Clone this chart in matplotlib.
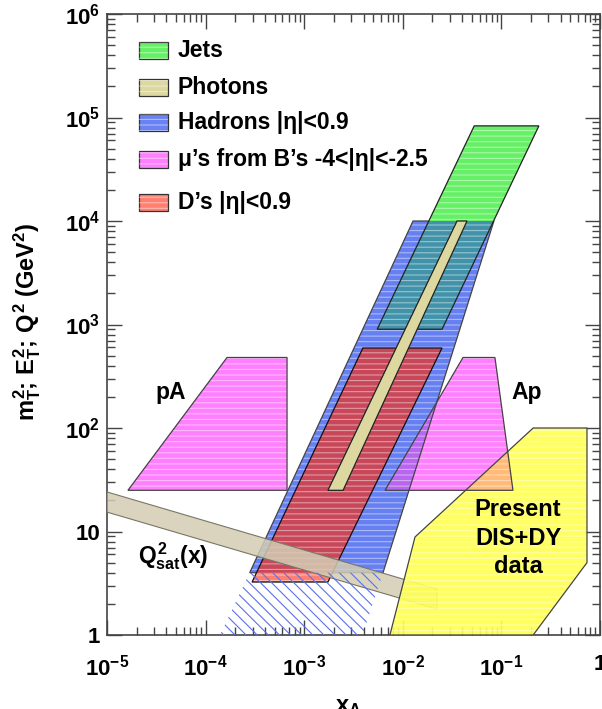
import matplotlib
matplotlib.use("Agg")
import matplotlib.pyplot as plt
from matplotlib.patches import Polygon, Rectangle
from matplotlib.ticker import FixedLocator, FixedFormatter, LogLocator, NullFormatter

plt.rcParams["font.family"] = ["Liberation Sans", "DejaVu Sans"]
plt.rcParams["font.weight"] = "bold"
plt.rcParams["axes.labelweight"] = "bold"
plt.rcParams["mathtext.fontset"] = "custom"
plt.rcParams["mathtext.rm"] = "Liberation Sans:bold"
plt.rcParams["mathtext.it"] = "Liberation Sans:bold"
plt.rcParams["mathtext.bf"] = "Liberation Sans:bold"
plt.rcParams["hatch.linewidth"] = 0.8

# corners of each region in (x_A, Q^2)
jets_x = [5.5e-3, 0.025, 0.24, 0.053]
jets_y = [900, 900, 8.3e4, 8.3e4]

photons_x = [1.74e-3, 2.48e-3, 0.0448, 0.0355]
photons_y = [25, 25, 1e4, 1e4]

hadrons_x = [2.8e-4, 6.3e-3, 0.084, 0.0127]
hadrons_y = [4, 4, 1e4, 1e4]
hadrons_low_x = [1.4e-4, 3.9e-3, 6.3e-3, 2.8e-4]
hadrons_low_y = [1, 1, 4, 4]

pA_x = [1.63e-5, 6.7e-4, 6.7e-4, 1.65e-4]
pA_y = [25, 25, 480, 480]
Ap_x = [6.6e-3, 0.131, 0.086, 0.0408]
Ap_y = [25, 25, 480, 480]

dmes_x = [2.96e-4, 1.74e-3, 0.025, 3.94e-3]
dmes_y = [3.25, 3.25, 593, 593]

dis_x = [7.4e-3, 0.21, 0.738, 0.738, 0.21, 0.0133]
dis_y = [1, 1, 5, 100, 100, 8.85]

qsat_x = [1e-5, 0.0222, 0.0222, 1e-5]
qsat_y = [15.4, 1.78, 2.78, 24.1]

legend_labels = ["Jets", "Photons", "Hadrons |η|<0.9",
                 "μ’s from B’s -4<|η|<-2.5", "D’s |η|<0.9"]
legend_colors = ["#66f066", "#dcd8a0", "#6b82f2", "#ff80ff", "#ff7f70"]

xticks = [1e-5, 1e-4, 1e-3, 1e-2, 1e-1, 1]
xlabels = ["$10^{-5}$", "$10^{-4}$", "$10^{-3}$", "$10^{-2}$", "$10^{-1}$", "1"]
yticks = [1, 10, 1e2, 1e3, 1e4, 1e5, 1e6]
ylabels = ["1", "10", "$10^{2}$", "$10^{3}$", "$10^{4}$", "$10^{5}$", "$10^{6}$"]

fig = plt.figure(figsize=(6.02, 7.09), dpi=100)
ax = fig.add_axes([107 / 602, 1 - 635 / 709, 493 / 602, 621 / 709])
ax.set_xscale("log")
ax.set_yscale("log")
ax.set_xlim(1e-5, 1)
ax.set_ylim(1, 1e6)


def region(xs, ys, color, z, clip=None, lines=True, alpha=1.0):
    pts = list(zip(xs, ys))
    p = Polygon(pts, closed=True, facecolor=color, edgecolor="none",
                linewidth=0, alpha=alpha, zorder=z)
    ax.add_patch(p)
    if clip is not None:
        p.set_clip_path(clip)
    if lines:
        h = Polygon(pts, closed=True, facecolor="none", edgecolor=(1, 1, 1, 0.45),
                    linewidth=0, hatch="---", zorder=z + 0.01)
        ax.add_patch(h)
        if clip is not None:
            h.set_clip_path(clip)
    return p


def outline(xs, ys, z, color="#333333", lw=0.9, ls="-"):
    ax.add_patch(Polygon(list(zip(xs, ys)), closed=True, fill=False,
                         edgecolor=color, linewidth=lw, linestyle=ls, zorder=z))


# muons from B's (pA and Ap)
pa = region(pA_x, pA_y, "#ff80ff", 2)
ap = region(Ap_x, Ap_y, "#ff80ff", 2)

# hadrons
had = region(hadrons_x, hadrons_y, "#6680f2", 3)
outline(hadrons_x, hadrons_y, 3.5, "#444444")
region(Ap_x, Ap_y, "#b866f0", 3.2, clip=had)

# jets
region(jets_x, jets_y, "#66f066", 4)
region(jets_x, jets_y, "#4293aa", 4.1, clip=had)
outline(jets_x, jets_y, 4.5, "#222222")

# D mesons
region(dmes_x, dmes_y, "#ff7f70", 5)
region(dmes_x, dmes_y, "#c8485a", 5.1, clip=had)
outline(dmes_x, dmes_y, 5.5, "#111111")

# saturation scale band
region(qsat_x, qsat_y, "#d4cdb4", 6, lines=False, alpha=0.85)
outline(qsat_x, qsat_y, 6.1, "#777766", lw=0.8)

# hadrons continuation, hatched
ax.add_patch(Polygon(list(zip(hadrons_low_x, hadrons_low_y)), closed=True,
                     facecolor="none", edgecolor="#5b70ee", linewidth=0,
                     hatch="\\\\\\", zorder=7))

# present DIS + DY data
region(dis_x, dis_y, "#ffff55", 8, alpha=0.92)
region(dis_x, dis_y, "#ffbb77", 8.1, clip=ap)
outline(dis_x, dis_y, 8.5, "#444444")

# photons
region(photons_x, photons_y, "#dcd8a0", 9, lines=False)
outline(photons_x, photons_y, 9.5, "#222222")

outline(pA_x, pA_y, 9.6, "#444444")
outline(Ap_x, Ap_y, 9.6, "#444444")

# legend drawn by hand to keep the original spacing
legend_y = [0.941, 0.882, 0.826, 0.765, 0.697]
for lab, col, yy in zip(legend_labels, legend_colors, legend_y):
    box = Rectangle((0.065, yy - 0.0137), 0.059, 0.0274, transform=ax.transAxes,
                    facecolor=col, edgecolor="#333333", linewidth=0.9, zorder=10)
    ax.add_patch(box)
    ax.add_patch(Rectangle((0.065, yy - 0.0137), 0.059, 0.0274, transform=ax.transAxes,
                           facecolor="none", edgecolor=(1, 1, 1, 0.45), linewidth=0,
                           hatch="---", zorder=10.1))
    ax.text(0.144, yy, lab, transform=ax.transAxes, fontsize=16.5, fontweight="bold",
            va="center", ha="left", zorder=11)

# labels on the plot
ax.text(0.130, 0.391, "pA", transform=ax.transAxes, fontsize=16.5, ha="center", va="center")
ax.text(0.852, 0.391, "Ap", transform=ax.transAxes, fontsize=16.5, ha="center", va="center")
ax.text(0.134, 0.127, "$Q^{2}_{sat}$(x)", transform=ax.transAxes, fontsize=16.5,
        ha="center", va="center", zorder=12)
ax.text(0.834, 0.156, "Present\nDIS+DY\ndata", transform=ax.transAxes, fontsize=17,
        ha="center", va="center", linespacing=1.3, zorder=12)

# axes
ax.xaxis.set_major_locator(FixedLocator(xticks))
ax.xaxis.set_major_formatter(FixedFormatter(xlabels))
ax.yaxis.set_major_locator(FixedLocator(yticks))
ax.yaxis.set_major_formatter(FixedFormatter(ylabels))
ax.xaxis.set_minor_locator(LogLocator(base=10, subs=range(2, 10), numticks=20))
ax.yaxis.set_minor_locator(LogLocator(base=10, subs=range(2, 10), numticks=20))
ax.xaxis.set_minor_formatter(NullFormatter())
ax.yaxis.set_minor_formatter(NullFormatter())
ax.tick_params(which="both", direction="in", top=True, right=True, color="#444444")
ax.tick_params(which="major", length=11, width=1.0, labelsize=16)
ax.tick_params(which="minor", length=5.8, width=1.0)
ax.tick_params(axis="x", which="major", pad=14)
ax.tick_params(axis="y", which="major", pad=5)
for s in ax.spines.values():
    s.set_linewidth(1.2)
    s.set_color("#444444")

ax.set_xlabel("x$_{A}$", fontsize=17, fontweight="bold")
ax.xaxis.set_label_coords(0.49, -0.097)
ax.set_ylabel("$m_{T}^{2}$; $E_{T}^{2}$; $Q^{2}$ (GeV$^{2}$)", fontsize=17, fontweight="bold")
ax.yaxis.set_label_coords(-0.13, 0.505)

fig.savefig("out.png", dpi=100)
